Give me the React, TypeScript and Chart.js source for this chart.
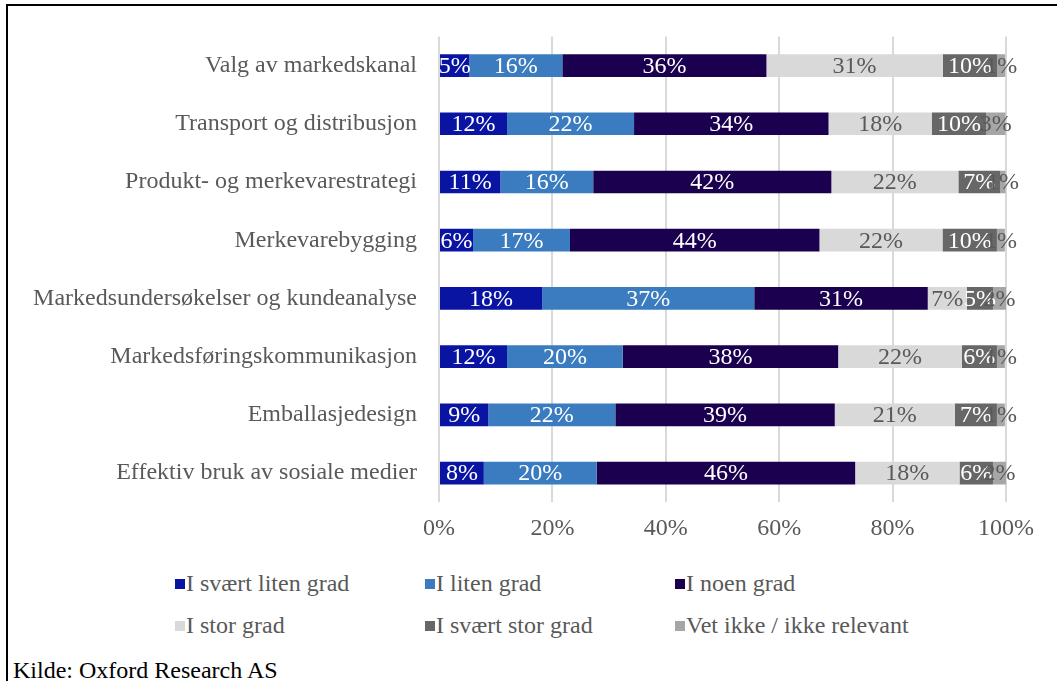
import React, { useEffect, useRef } from "react";
import { Chart, registerables } from "chart.js";

Chart.register(...registerables);

const categories = [
  "Valg av markedskanal",
  "Transport og distribusjon",
  "Produkt- og merkevarestrategi",
  "Merkevarebygging",
  "Markedsundersøkelser og kundeanalyse",
  "Markedsføringskommunikasjon",
  "Emballasjedesign",
  "Effektiv bruk av sosiale medier",
];

const seriesNames = [
  "I svært liten grad",
  "I liten grad",
  "I noen grad",
  "I stor grad",
  "I svært stor grad",
  "Vet ikke / ikke relevant",
];

const svaertLiten = [5.35, 12.0, 10.8, 6.0, 18.2, 12.0, 8.7, 7.9];
const liten = [16.4, 22.4, 16.4, 17.1, 37.4, 20.4, 22.4, 19.9];
const noen = [36.0, 34.3, 42.0, 44.0, 30.6, 38.0, 38.7, 45.6];
const stor = [31.1, 18.2, 22.4, 21.7, 6.9, 21.8, 21.2, 18.4];
const svaertStor = [9.6, 9.6, 7.4, 9.6, 4.6, 6.2, 7.4, 5.9];
const vetIkke = [1.4, 3.4, 0.9, 1.4, 2.3, 1.4, 1.4, 2.3];

const xTicks = [0, 20, 40, 60, 80, 100];

const seriesValues = [svaertLiten, liten, noen, stor, svaertStor, vetIkke];
const seriesColors = ["#0a14a3", "#3a7cbf", "#1b004f", "#d9d9d9", "#676767", "#a6a6a6"];
const labelColors = ["#ffffff", "#ffffff", "#ffffff", "#595959", "#ffffff", "#595959"];

const FONT = "'Liberation Serif', 'Times New Roman', serif";
const FS = 24;

const dataLabelPlugin = {
  id: "segmentLabels",
  afterDatasetsDraw(chart: any) {
    const ctx = chart.ctx;
    ctx.save();
    ctx.font = `${FS}px ${FONT}`;
    ctx.textAlign = "center";
    ctx.textBaseline = "middle";
    chart.data.datasets.forEach((ds: any, di: number) => {
      const meta = chart.getDatasetMeta(di);
      meta.data.forEach((bar: any, i: number) => {
        const v = ds.data[i];
        const cx = (bar.x + bar.base) / 2;
        ctx.fillStyle = labelColors[di];
        ctx.fillText(Math.round(v) + "%", cx, bar.y + 1);
      });
    });
    ctx.restore();
  },
};

export default function App() {
  const ref = useRef<HTMLCanvasElement | null>(null);

  useEffect(() => {
    if (!ref.current) return;
    const chart = new Chart(ref.current, {
      type: "bar",
      data: {
        labels: categories,
        datasets: seriesNames.map((name, i) => ({
          label: name,
          data: seriesValues[i],
          backgroundColor: seriesColors[i],
          borderWidth: 0,
          barPercentage: 0.39,
          categoryPercentage: 1,
        })),
      },
      options: {
        indexAxis: "y",
        responsive: false,
        animation: false,
        devicePixelRatio: 1,
        layout: { padding: { left: 0, right: 51, top: 34, bottom: 0 } },
        plugins: {
          legend: { display: false },
          tooltip: { enabled: false },
        },
        scales: {
          x: {
            stacked: true,
            min: 0,
            max: 100,
            afterBuildTicks: (scale: any) => {
              scale.ticks = xTicks.map((v) => ({ value: v }));
            },
            afterFit: (scale: any) => {
              scale.height = 57.7;
            },
            grid: { color: "#d9d9d9", lineWidth: 2, drawTicks: false },
            border: { display: false },
            ticks: {
              padding: 12,
              color: "#595959",
              font: { family: FONT, size: FS },
              callback: (v: any) => v + "%",
            },
          },
          y: {
            stacked: true,
            afterFit: (scale: any) => {
              scale.width = 439;
            },
            grid: { display: false, drawTicks: false },
            border: { display: false },
            ticks: {
              padding: 22,
              color: "#595959",
              font: { family: FONT, size: FS },
            },
          },
        },
      },
      plugins: [dataLabelPlugin],
    } as any);
    return () => chart.destroy();
  }, []);

  return (
    <div style={{ position: "absolute", left: 0, top: 0, width: 1057, height: 681, overflow: "hidden", background: "#fff" }}>
      <div
        style={{
          position: "absolute",
          left: 6,
          top: 4,
          width: 1200,
          height: 800,
          borderTop: "2px solid #000",
          borderLeft: "2px solid #000",
        }}
      />
      <canvas ref={ref} width={1057} height={560} style={{ position: "absolute", left: 0, top: 0, width: 1057, height: 560 }} />
      {seriesNames.map((name, i) => {
        const row = Math.floor(i / 3);
        const col = i % 3;
        const cy = row === 0 ? 583 : 625;
        return (
          <div
            key={name}
            style={{
              position: "absolute",
              left: 175 + col * 250,
              top: cy - 14,
              height: 28,
              display: "flex",
              alignItems: "center",
              fontFamily: FONT,
              fontSize: FS,
              color: "#595959",
              whiteSpace: "nowrap",
            }}
          >
            <span style={{ display: "inline-block", width: 10, height: 10, background: seriesColors[i], marginRight: 1, marginTop: 1 }} />
            <span>{name}</span>
          </div>
        );
      })}
      <div
        style={{
          position: "absolute",
          left: 13,
          top: 656,
          fontFamily: FONT,
          fontSize: FS,
          color: "#000",
          whiteSpace: "nowrap",
          lineHeight: "28px",
        }}
      >
        Kilde: Oxford Research AS
      </div>
    </div>
  );
}
